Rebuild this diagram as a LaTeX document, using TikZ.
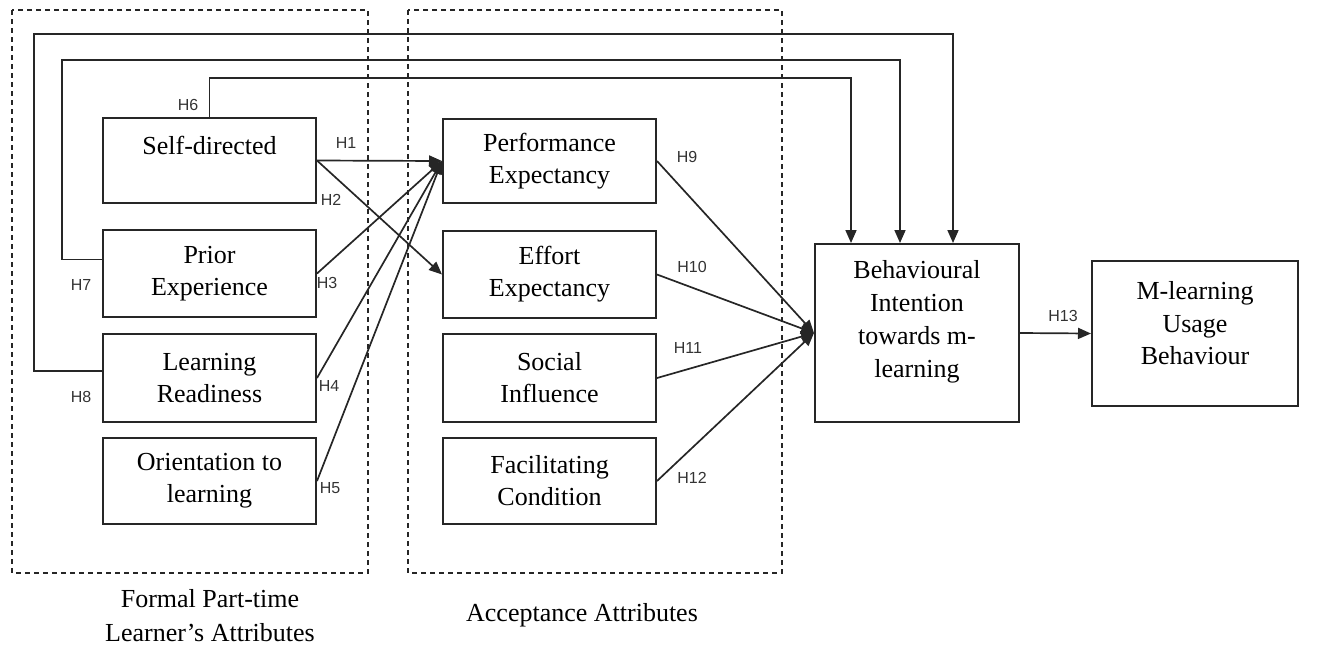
\documentclass[tikz,border=0pt]{standalone}
\usepackage{fontspec}
\setmainfont{Liberation Serif}
\newfontfamily\labfont{Liberation Sans}
\usetikzlibrary{arrows.meta}
\begin{document}
\begin{tikzpicture}[x=1pt,y=-1pt,
  box/.style={draw=black!85, line width=2pt, rectangle, align=center, inner sep=0pt,
              font=\fontsize{26}{32}\selectfont, minimum width=213pt},
  txt/.style={align=center, inner sep=0pt, font=\fontsize{26}{33}\selectfont},
  conn/.style={draw=black!85, line width=1.7pt},
  arr/.style={conn, -{Triangle[length=13pt,width=11pt]}},
  hlab/.style={font=\labfont\fontsize{16}{19}\selectfont, text=black!80, inner sep=0pt},
  grp/.style={draw=black!85, line width=1.8pt, dash pattern=on 5pt off 4pt},
  capt/.style={align=center, inner sep=0pt, font=\fontsize{26}{34}\selectfont}]
\useasboundingbox (0,0) rectangle (1323,649);

% group frames
\draw[grp] (12,10) rectangle (368,573);
\draw[grp] (408,10) rectangle (782,573);

% left column
\node[box, minimum height=85pt] (sd)  at (209.5,160.5) {};
\node[txt] at ([yshift=15pt]sd.center) {Self-directed};
\node[box, minimum height=87pt] (pex) at (209.5,273.5) {Prior\\Experience};
\node[box, minimum height=88pt] (lr)  at (209.5,378) {Learning\\Readiness};
\node[box, minimum height=86pt] (ol)  at (209.5,481) {Orientation to\\learning};

% middle column
\node[box, minimum height=84pt] (pe) at (549.5,161) {Performance\\Expectancy};
\node[box, minimum height=87pt] (ee) at (549.5,274.5) {Effort\\Expectancy};
\node[box, minimum height=88pt] (si) at (549.5,378) {Social\\Influence};
\node[box, minimum height=86pt] (fc) at (549.5,481) {Facilitating\\Condition};

% right
\node[box, minimum width=204pt, minimum height=178pt] (bi) at (917,333) {};
\node[txt] at ([yshift=11pt]bi.center) {Behavioural\\Intention\\towards m-\\learning};
\node[box, minimum width=206pt, minimum height=145pt] (mu) at (1195,333.5) {};
\node[txt, font=\fontsize{26}{32.5}\selectfont] at ([yshift=10pt]mu.center) {M-learning\\Usage\\Behaviour};

% H1-H5
\draw[arr] (sd.east) -- (pe.west);
\draw[arr] (sd.east) -- (ee.west);
\draw[arr] (pex.east) -- (pe.west);
\draw[arr] (lr.east) -- (pe.west);
\draw[arr] (ol.east) -- (pe.west);

% H9-H12
\draw[arr] (pe.east) -- (bi.west);
\draw[arr] (ee.east) -- (bi.west);
\draw[arr] (si.east) -- (bi.west);
\draw[arr] (fc.east) -- (bi.west);

% H13
\draw[arr] (bi.east) -- (mu.west);

% feedback paths H6-H8
\coordinate (c6) at (209.5,78);
\coordinate (c7) at (62,60);
\coordinate (c8) at (34,34);
\draw[arr] (sd.north) -- (c6) -| ([xshift=-66pt]bi.north);
\draw[arr] ([yshift=14pt]pex.west) -| (c7) -| ([xshift=-17pt]bi.north);
\draw[arr] ([yshift=7pt]lr.west) -| (c8) -| ([xshift=36pt]bi.north);

% hypothesis labels
\node[hlab] (h1) at (346,143) {H1};
\node[hlab] (h2) at (331,200) {H2};
\node[hlab] (h3) at (327,283) {H3};
\node[hlab] (h4) at (329,386) {H4};
\node[hlab] (h5) at (330,488) {H5};
\node[hlab] (h6) at (188,105) {H6};
\node[hlab] (h7) at (81,285) {H7};
\node[hlab] (h8) at (81,397) {H8};
\node[hlab] (h9) at (687,157) {H9};
\node[hlab] (h10) at (692,267) {H10};
\node[hlab] (h11) at (688,348) {H11};
\node[hlab] (h12) at (692,478) {H12};
\node[hlab] (h13) at (1063,316) {H13};

% captions
\node[capt] (cap1) at (210,616) {Formal Part-time\\Learner’s Attributes};
\node[capt] (cap2) at (582,615) {Acceptance Attributes};
\end{tikzpicture}
\end{document}
